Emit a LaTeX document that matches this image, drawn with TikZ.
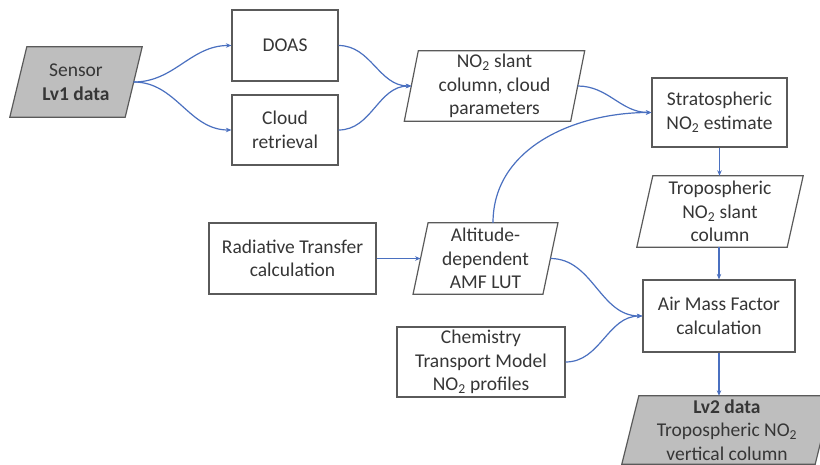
\documentclass[tikz,border=0pt]{standalone}
\usepackage{fontspec}
\setmainfont{Carlito}
\usetikzlibrary{arrows.meta,backgrounds}

\definecolor{linkblue}{HTML}{4A70C0}
\definecolor{edgegray}{HTML}{5A5A5A}
\definecolor{datagray}{HTML}{BEBEBE}
\definecolor{txtgray}{HTML}{363636}

% frame drawn behind a node as a parallelogram leaning to the right
\newcommand\slantframe[3]{%
  \begin{scope}[on background layer]
    \path[draw=edgegray, line width=1.2pt, fill=#3]
      ([xshift=#2pt]#1.north west) -- ([xshift=#2pt]#1.north east)
      -- ([xshift=-#2pt]#1.south east) -- ([xshift=-#2pt]#1.south west) -- cycle;
  \end{scope}}

\begin{document}
\begin{tikzpicture}[x=1pt,y=-1pt,
  label text/.style={align=center, text=txtgray, inner sep=0pt,
    font=\fontsize{19.5}{23.5}\selectfont},
  box/.style={label text, draw=edgegray, line width=1.2pt, fill=white},
  iobox/.style={label text},
  link/.style={draw=linkblue, line width=1.2pt,
    -{Stealth[length=5.5pt,width=4.5pt]}},
]
\begin{scope}[on background layer]
  \fill[white] (0,0) rectangle (820,464);
\end{scope}
\useasboundingbox (0,0) rectangle (820,464);

% processing steps
\node[box, minimum width=106pt, minimum height=71pt] (doas)  at (285,45.5) {DOAS};
\node[box, minimum width=106pt, minimum height=70pt] (cloud) at (285,130) {Cloud\\retrieval};
\node[box, minimum width=135pt, minimum height=69pt] (strat) at (719.5,112.5) {Stratospheric\\NO\textsubscript{2} estimate};
\node[box, minimum width=167pt, minimum height=71pt] (rad)   at (292.5,258.5) {Radiative Transfer\\calculation};
\node[box, minimum width=152pt, minimum height=72pt] (amf)   at (719,316) {Air Mass Factor\\calculation};
\node[box, minimum width=168pt, minimum height=70pt] (ctm)   at (481,362) {Chemistry\\Transport Model\\NO\textsubscript{2} profiles};

% data products
\node[iobox, minimum width=115pt, minimum height=70pt] (sensor) at (76,82) {Sensor\\\textbf{Lv1 data}};
\slantframe{sensor}{8.5}{datagray}
\node[iobox, minimum width=166pt, minimum height=70pt] (slant) at (494.5,86) {NO\textsubscript{2} slant\\column, cloud\\parameters};
\slantframe{slant}{7}{white}
\node[iobox, minimum width=150pt, minimum height=71pt] (tropo) at (720,211.5) {Tropospheric\\NO\textsubscript{2} slant\\column};
\slantframe{tropo}{8}{white}
\node[iobox, minimum width=129.5pt, minimum height=71pt] (lut) at (485.5,258.5) {Altitude-\\dependent\\AMF LUT};
\slantframe{lut}{7.5}{white}
\node[iobox, minimum width=193pt, minimum height=68pt] (lvtwo) at (727,430) {\textbf{Lv2 data}\\Tropospheric NO\textsubscript{2}\\vertical column};
\slantframe{lvtwo}{8.5}{datagray}

% data flow
\draw[link] (sensor.east) to[out=0,in=180] (doas.west);
\draw[link] (sensor.east) to[out=0,in=180] (cloud.west);
\draw[link] (doas.east) to[out=0,in=180] (slant.west);
\draw[link] (cloud.east) to[out=0,in=180] (slant.west);
\draw[link] (slant.east) to[out=0,in=180] (strat.west);
\draw[link] ([xshift=7.5pt]lut.north) to[out=90,in=180] (strat.west);
\draw[link] (strat.south) -- (strat.south |- tropo.north);
\draw[link] (tropo.south -| amf.north) -- (amf.north);
\draw[link] (rad.east) -- (lut.west);
\draw[link] (lut.east) to[out=0,in=180] (amf.west);
\draw[link] (ctm.east) to[out=0,in=180] (amf.west);
\draw[link] (amf.south) -- (amf.south |- lvtwo.north);
\end{tikzpicture}
\end{document}
